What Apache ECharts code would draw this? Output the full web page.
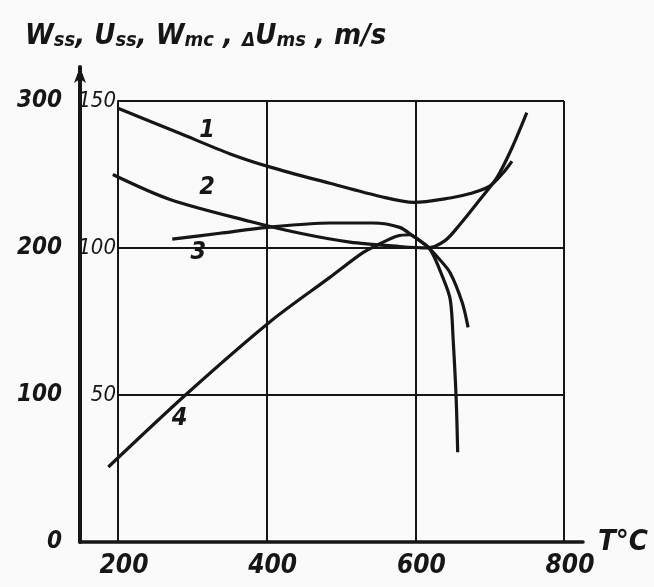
<!DOCTYPE html>
<html><head><meta charset="utf-8">
<script src="https://cdn.jsdelivr.net/npm/echarts@6/dist/echarts.min.js"></script>
<style>html,body{margin:0;padding:0;background:#fafafa}#c{width:654px;height:587px}</style>
</head><body><div id="c"></div>
<script>
// Temperature ticks (°C) and value ticks
const xTicks = [200, 400, 600, 800];
const leftTicks = [0, 100, 200, 300];   // W_ss, U_ss scale, m/s
const rightTicks = [50, 100, 150];      // inner scale

// Curves: temperature (°C) and value (outer scale, m/s)
const curve1T = [200, 283, 351, 405, 485, 553, 598, 647, 674, 700, 718, 730];
const curve1V = [295, 278, 264, 255, 244, 235, 231, 234, 237, 242, 251, 259];

const curve2T = [193, 270, 378, 445, 512, 579, 616, 640, 660, 687, 710, 730, 750];
const curve2V = [250, 233, 218, 210, 204, 201, 200, 205, 216, 233, 248, 268, 292];

const curve3T = [273, 337, 401, 485, 543, 579, 597, 616, 633, 647, 663, 671];
const curve3V = [206, 210, 214, 217, 217, 214, 208, 201, 192, 183, 163, 146];

const curve4T = [187, 293, 405, 485, 530, 553, 575, 593, 606, 620, 637, 647, 651, 655, 657];
const curve4V = [51, 101, 150, 180, 197, 203, 208, 209, 205, 199, 180, 165, 137, 97, 61];

// Curve number labels: [T, value, text]
const curveLabels = [[320, 280, '1'], [320, 241, '2'], [308, 197, '3'], [283, 84, '4']];

const ink = '#161616';
const fam = 'DejaVu Sans Condensed, DejaVu Sans, sans-serif';
const narrow = 'Liberation Sans Narrow, DejaVu Sans Condensed, sans-serif';
const zip = (a, b) => a.map((v, i) => [v, b[i]]);

function curve(name, T, V, idx) {
  const lab = curveLabels[idx];
  return {
    type: 'line', name, xAxisIndex: 0, yAxisIndex: 0,
    data: zip(T, V), smooth: 0.3, symbol: 'none', clip: false,
    lineStyle: { color: ink, width: 3.2 },
    markPoint: {
      symbol: 'circle', symbolSize: 0,
      data: [{ coord: [lab[0], lab[1]], value: lab[2] }],
      label: { show: true, formatter: lab[2], color: ink, fontSize: 25, fontWeight: 'bold',
               fontStyle: 'italic', fontFamily: narrow }
    }
  };
}

const chart = echarts.init(document.getElementById('c'));
chart.setOption({
  backgroundColor: '#fafafa',
  animation: false,
  title: {
    left: 20, top: 12,
    text: '{m|W}{s|ss}{m|, U}{s|ss}{m|, W}{s|mc}{m| , }{d|Δ}{m|U}{s|ms}{m| , m/s}',
    textStyle: {
      rich: {
        m: { fontSize: 29, fontStyle: 'italic', fontWeight: 'bold', fontFamily: fam, color: ink, lineHeight: 34, verticalAlign: 'bottom' },
        d: { fontSize: 19, fontStyle: 'italic', fontWeight: 'bold', fontFamily: fam, color: ink, lineHeight: 28, verticalAlign: 'bottom' },
        s: { fontSize: 20, fontStyle: 'italic', fontWeight: 'bold', fontFamily: fam, color: ink, lineHeight: 21, verticalAlign: 'bottom' }
      }
    }
  },
  graphic: [{
    type: 'text', left: 598, top: 528,
    style: { text: 'T°C', fontSize: 29, fontStyle: 'italic', fontWeight: 'bold', fontFamily: fam, fill: ink }
  }],
  grid: [
    { left: 80, right: 71, top: 67, bottom: 45 },
    { left: 118, right: 90, top: 101, bottom: 45 }
  ],
  xAxis: [
    { gridIndex: 0, type: 'value', min: 148.9, max: 825.6,
      axisLine: { show: true, lineStyle: { color: ink, width: 3.5 } },
      axisTick: { show: false }, axisLabel: { show: false }, splitLine: { show: false } },
    { gridIndex: 1, type: 'value', min: xTicks[0], max: xTicks[xTicks.length - 1], interval: 200,
      axisLine: { show: false }, axisTick: { show: false },
      axisLabel: { show: true, margin: 11, fontSize: 26, fontWeight: 'bold', fontStyle: 'italic',
                   fontFamily: fam, color: ink, padding: [0, 0, 0, 12],
                   formatter: v => xTicks.includes(v) ? String(v) : '' },
      splitLine: { show: true, lineStyle: { color: ink, width: 2 } } }
  ],
  yAxis: [
    { gridIndex: 0, type: 'value', min: 0, max: 323.1, interval: 100,
      axisLine: { show: true, symbol: ['none', 'arrow'], symbolSize: [9, 16], lineStyle: { color: ink, width: 4 } },
      axisTick: { show: false }, splitLine: { show: false },
      axisLabel: { margin: 18, fontSize: 24, fontWeight: 'bold', fontStyle: 'italic', fontFamily: fam, color: ink,
                   formatter: v => leftTicks.includes(v) ? String(v) : '' } },
    { gridIndex: 1, type: 'value', min: 0, max: 150, interval: 50,
      axisLine: { show: true, lineStyle: { color: ink, width: 2 } },
      axisTick: { show: false },
      splitLine: { show: true, lineStyle: { color: ink, width: 2 } },
      axisLabel: { margin: 2, fontSize: 22, fontStyle: 'italic', fontFamily: narrow, color: ink,
                   formatter: v => rightTicks.includes(v) ? String(v) : '' } }
  ],
  series: [
    curve('1', curve1T, curve1V, 0),
    curve('2', curve2T, curve2V, 1),
    curve('3', curve3T, curve3V, 2),
    curve('4', curve4T, curve4V, 3)
  ]
});
</script></body></html>
